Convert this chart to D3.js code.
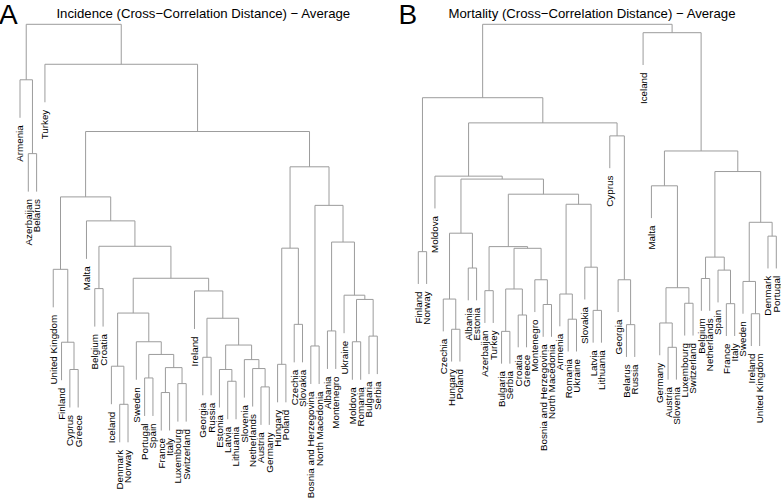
<!DOCTYPE html>
<html>
<head>
<meta charset="utf-8">
<script src="https://cdn.jsdelivr.net/npm/d3@7"></script>
<style>
body { margin: 0; background: #fff; }
text { font-family: "Liberation Sans", Arial, sans-serif; }
</style>
</head>
<body>
<svg id="chart" width="781" height="500"></svg>
<script>
// leaf order as drawn, left to right
const incLabels = ["Armenia", "Azerbaijan", "Belarus", "Turkey", "United Kingdom", "Finland", "Cyprus", "Greece",
    "Malta", "Belgium", "Croatia", "Iceland", "Denmark", "Norway", "Sweden", "Portugal", "Spain", "France", "Italy",
    "Luxembourg", "Switzerland", "Ireland", "Georgia", "Russia", "Estonia", "Latvia", "Lithuania", "Slovenia",
    "Netherlands", "Austria", "Germany", "Hungary", "Poland", "Czechia", "Slovakia", "Bosnia and Herzegovina",
    "North Macedonia", "Albania", "Montenegro", "Ukraine", "Moldova", "Romania", "Bulgaria", "Serbia"]

// merges: a name is a leaf, a number is an earlier merge row
const incMerge = [
    ["Azerbaijan", "Belarus"], ["Armenia", 0], ["Cyprus", "Greece"], ["Finland", 2], ["United Kingdom", 3],
    ["Belgium", "Croatia"], ["Denmark", "Norway"], ["Iceland", 6], ["Portugal", "Spain"], ["France", "Italy"],
    ["Luxembourg", "Switzerland"], [9, 10], [8, 11], ["Sweden", 12], [7, 13],
    ["Georgia", "Russia"], ["Latvia", "Lithuania"], ["Estonia", 16], ["Austria", "Germany"], ["Netherlands", 18],
    ["Slovenia", 19], [17, 20], [15, 21], ["Ireland", 22], [14, 23],
    [5, 24], ["Malta", 25], [4, 26], ["Hungary", "Poland"], ["Czechia", "Slovakia"],
    [28, 29], ["Bosnia and Herzegovina", "North Macedonia"], ["Albania", "Montenegro"], ["Moldova", "Romania"], ["Bulgaria", "Serbia"],
    [33, 34], ["Ukraine", 35], [32, 36], [31, 37], [30, 38],
    [27, 39], ["Turkey", 40], [1, 41]
]
const incHeight = [
    0.620, 0.777, 0.161, 0.219, 0.374,
    0.333, 0.087, 0.168, 0.143, 0.112,
    0.131, 0.165, 0.193, 0.220, 0.281,
    0.187, 0.136, 0.161, 0.124, 0.163,
    0.182, 0.213, 0.270, 0.328, 0.355,
    0.423, 0.477, 0.528, 0.172, 0.257,
    0.419, 0.211, 0.243, 0.220, 0.232,
    0.310, 0.319, 0.432, 0.510, 0.592,
    0.667, 0.810, 0.895
]

const morLabels = ["Finland", "Norway", "Moldova", "Czechia", "Hungary", "Poland", "Albania", "Estonia", "Azerbaijan",
    "Turkey", "Bulgaria", "Serbia", "Croatia", "Greece", "Montenegro", "Bosnia and Herzegovina", "North Macedonia",
    "Armenia", "Romania", "Ukraine", "Slovakia", "Latvia", "Lithuania", "Cyprus", "Georgia", "Belarus", "Russia",
    "Iceland", "Malta", "Germany", "Austria", "Slovenia", "Luxembourg", "Switzerland", "Belgium", "Netherlands",
    "Spain", "France", "Italy", "Sweden", "Ireland", "United Kingdom", "Denmark", "Portugal"]

const morMerge = [
    ["Finland", "Norway"], ["Hungary", "Poland"], ["Czechia", 1], ["Albania", "Estonia"], [2, 3],
    ["Azerbaijan", "Turkey"], ["Bulgaria", "Serbia"], ["Croatia", "Greece"], [6, 7], ["Bosnia and Herzegovina", "North Macedonia"],
    ["Montenegro", 9], [8, 10], [5, 11], ["Romania", "Ukraine"], ["Armenia", 13],
    ["Latvia", "Lithuania"], ["Slovakia", 15], [14, 16], [12, 17], [4, 18],
    ["Moldova", 19], ["Belarus", "Russia"], ["Georgia", 21], ["Cyprus", 22], [20, 23],
    [0, 24], ["Austria", "Slovenia"], ["Germany", 26], ["Luxembourg", "Switzerland"], [27, 28],
    ["Malta", 29], ["Belgium", "Netherlands"], ["France", "Italy"], ["Spain", 32], [31, 33],
    ["Ireland", "United Kingdom"], ["Sweden", 35], ["Denmark", "Portugal"], [36, 37], [34, 38],
    [30, 39], ["Iceland", 40], [25, 41]
]
const morHeight = [
    0.353, 0.168, 0.240, 0.314, 0.397,
    0.260, 0.163, 0.202, 0.264, 0.227,
    0.286, 0.361, 0.365, 0.192, 0.252,
    0.213, 0.316, 0.466, 0.490, 0.526,
    0.533, 0.179, 0.286, 0.629, 0.660,
    0.720, 0.125, 0.183, 0.230, 0.267,
    0.510, 0.289, 0.229, 0.309, 0.340,
    0.205, 0.282, 0.390, 0.423, 0.544,
    0.593, 0.875, 0.895
]

const svg = d3.select("#chart")

const layout = {
    lineColor: "#9c9c9c",
    labelSize: 9.8,
    labelGap: 7.5,
    hang: 0.1,
    titleSize: 13.2,
    letterSize: 28,
}

function drawDendro(opts) {
    const g = svg.append("g")
    const x = d3.scalePoint().domain(opts.labels).range([opts.x0, opts.x1])
    const y = d3.scaleLinear()
        .domain([d3.min(opts.height), d3.max(opts.height)])
        .range([opts.yLow, opts.yTop])
    const hang = layout.hang * (d3.max(opts.height) - d3.min(opts.height))

    const nodes = []
    opts.merge.forEach((m, i) => {
        const h = opts.height[i]
        const kids = m.map(c => typeof c === "number"
            ? { x: nodes[c].x, y: y(nodes[c].h) }
            : { x: x(c), y: y(h - hang), name: c })
        nodes.push({ h: h, x: (kids[0].x + kids[1].x) / 2 })

        const yp = y(h)
        g.append("path")
            .attr("d", `M${kids[0].x},${kids[0].y}V${yp}H${kids[1].x}V${kids[1].y}`)
            .attr("fill", "none")
            .attr("stroke", layout.lineColor)
            .attr("stroke-width", 1)

        kids.filter(k => k.name).forEach(k => {
            g.append("text")
                .attr("transform", `translate(${k.x},${k.y + layout.labelGap}) rotate(-90)`)
                .attr("text-anchor", "end")
                .attr("dy", "0.35em")
                .attr("font-size", layout.labelSize)
                .attr("fill", "#000")
                .text(k.name)
        })
    })

    g.append("text")
        .attr("x", opts.titleX)
        .attr("y", 17.8)
        .attr("text-anchor", "middle")
        .attr("font-size", layout.titleSize)
        .text(opts.title)

    g.append("text")
        .attr("x", opts.letterX)
        .attr("y", 24)
        .attr("font-size", layout.letterSize)
        .text(opts.letter)
}

drawDendro({
    labels: incLabels, merge: incMerge, height: incHeight,
    x0: 20, x1: 377.3, yTop: 24.3, yLow: 404.3,
    title: "Incidence (Cross\u2212Correlation Distance) \u2212 Average", titleX: 203.3,
    letter: "A", letterX: -1
})

drawDendro({
    labels: morLabels, merge: morMerge, height: morHeight,
    x0: 418.3, x1: 776.3, yTop: 24.3, yLow: 347.3,
    title: "Mortality (Cross\u2212Correlation Distance) \u2212 Average", titleX: 592,
    letter: "B", letterX: 398.5
})
</script>
</body>
</html>
